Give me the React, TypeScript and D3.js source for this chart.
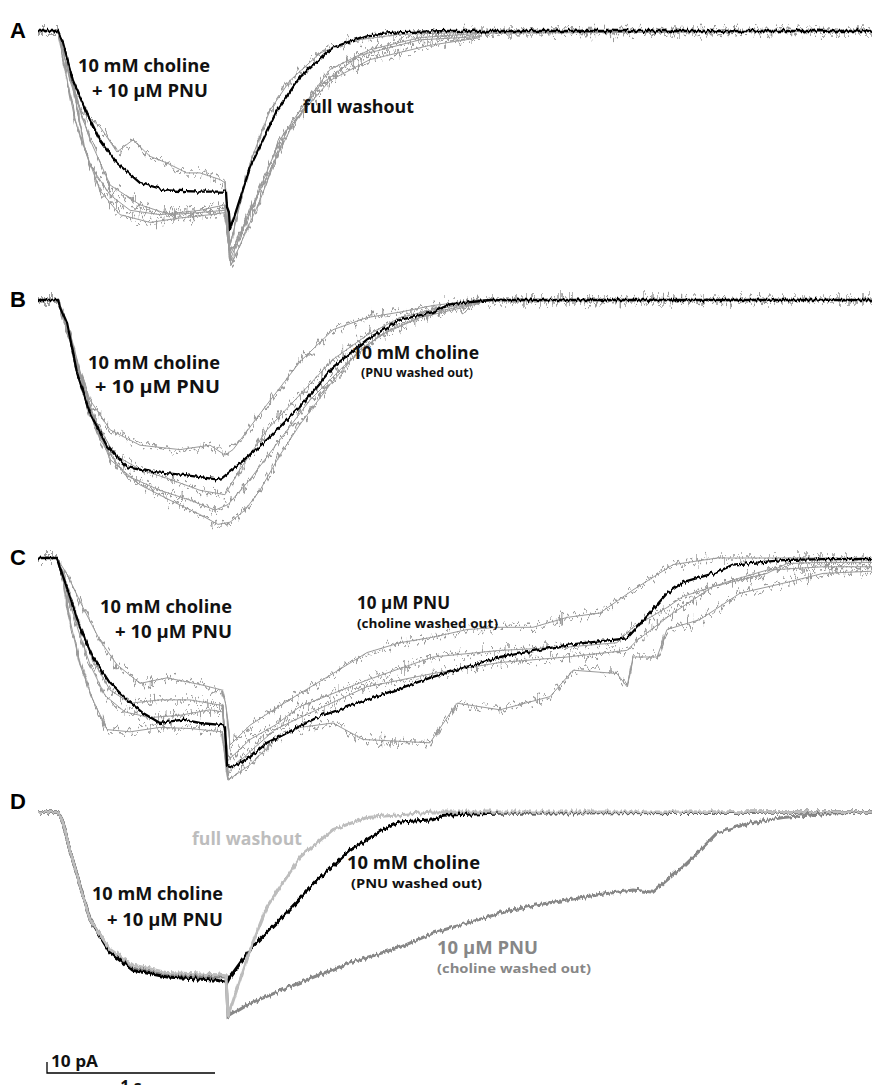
import React from "react";
import * as d3 from "d3";

// Each point is [time (s), current (pA)]; inward current is negative.
type Pt = [number, number];

const TICKS_SCALE = { pA: 10, s: 1 };

// ---------- Panel A: 10 mM choline + 10 µM PNU, then full washout ----------
const aMean: Pt[] = [
  [0, 0], [0.119, 0], [0.149, -11], [0.208, -45], [0.292, -75], [0.369, -99], [0.47, -120],
  [0.607, -138], [0.768, -145], [0.964, -146], [1.119, -146], [1.125, -160], [1.137, -165],
  [1.143, -181], [1.262, -124], [1.423, -72], [1.56, -42], [1.756, -15], [1.958, -4],
  [2.155, -1], [2.452, 0], [4.964, 0],
];
const aSweep1: Pt[] = [
  [0, 0], [0.119, 0], [0.161, -26], [0.25, -72], [0.369, -87], [0.47, -110], [0.565, -99],
  [0.667, -114], [0.768, -120], [0.885, -129], [0.964, -129], [1.083, -135], [1.113, -138],
  [1.143, -195], [1.262, -120], [1.381, -72], [1.5, -45], [1.679, -20], [1.857, -9],
  [2.155, -3], [2.631, -1], [4.964, 0],
];
const aSweep2: Pt[] = [
  [0, 0], [0.119, 0], [0.161, -35], [0.22, -81], [0.31, -122], [0.429, -149], [0.548, -163],
  [0.726, -167], [0.964, -163], [1.113, -158], [1.143, -208], [1.292, -154], [1.44, -99],
  [1.56, -72], [1.738, -35], [1.976, -17], [2.274, -6], [2.631, -2], [4.964, 0],
];
const aSweep3: Pt[] = [
  [0, 0], [0.119, 0], [0.19, -45], [0.31, -99], [0.429, -140], [0.607, -158], [0.786, -167],
  [0.964, -165], [1.113, -163], [1.143, -204], [1.321, -145], [1.5, -90], [1.679, -49],
  [1.917, -22], [2.274, -8], [2.631, -5],
];
const aSweep4: Pt[] = [
  [0, 0], [0.119, 0], [0.19, -35], [0.28, -108], [0.369, -145], [0.488, -167], [0.667, -174],
  [0.845, -170], [1.024, -167], [1.113, -165], [1.149, -213], [1.321, -154], [1.482, -90],
  [1.738, -45], [1.976, -26], [2.333, -13], [2.631, -6],
];

// ---------- Panel B: choline + PNU, then 10 mM choline alone ----------
const bMean: Pt[] = [
  [0, 0], [0.119, 0], [0.131, -6], [0.173, -21], [0.232, -66], [0.31, -103], [0.411, -133],
  [0.53, -152], [0.667, -156], [0.863, -159], [1.065, -163], [1.095, -162], [1.161, -154],
  [1.363, -127], [1.56, -97], [1.756, -61], [1.958, -36], [2.155, -18], [2.351, -11],
  [2.452, -4], [2.69, 0], [4.964, 0],
];
const bSweep1: Pt[] = [
  [0, 0], [0.119, 0], [0.161, -18], [0.22, -54], [0.31, -91], [0.429, -118], [0.607, -132],
  [0.845, -136], [1.024, -132], [1.113, -141], [1.161, -136], [1.363, -95], [1.56, -56],
  [1.756, -27], [1.958, -16], [2.155, -11], [2.351, -5], [2.631, 0], [4.964, 0],
];
const bSweep2: Pt[] = [
  [0, 0], [0.119, 0], [0.179, -27], [0.25, -68], [0.339, -109], [0.458, -141], [0.607, -154],
  [0.786, -163], [0.964, -173], [1.113, -177], [1.202, -154], [1.363, -118], [1.56, -86],
  [1.756, -54], [1.958, -32], [2.155, -16], [2.351, -9], [2.631, -1], [4.964, 0],
];
const bSweep3: Pt[] = [
  [0, 0], [0.119, 0], [0.19, -36], [0.28, -91], [0.369, -127], [0.518, -159], [0.726, -173],
  [0.905, -182], [1.054, -191], [1.131, -186], [1.262, -163], [1.44, -127], [1.619, -91],
  [1.827, -59], [2.036, -32], [2.274, -16], [2.631, -3],
];
const bSweep4: Pt[] = [
  [0, 0], [0.119, 0], [0.202, -36], [0.31, -100], [0.429, -145], [0.607, -168], [0.786, -182],
  [0.964, -195], [1.071, -204], [1.143, -202], [1.232, -191], [1.321, -173], [1.44, -141],
  [1.56, -113], [1.738, -77], [1.917, -45], [2.095, -27], [2.333, -12], [2.631, -2],
];

// ---------- Panel C: choline + PNU, then 10 µM PNU alone ----------
const cMean: Pt[] = [
  [0, 0], [0.113, 0], [0.143, -14], [0.19, -35], [0.25, -63], [0.327, -90], [0.429, -114],
  [0.53, -129], [0.625, -141], [0.726, -150], [0.768, -149], [0.863, -147], [0.964, -150],
  [1.101, -152], [1.113, -154], [1.125, -188], [1.161, -190], [1.262, -181], [1.363, -168],
  [1.482, -159], [1.661, -145], [1.958, -129], [2.351, -108], [2.75, -90], [3.149, -79],
  [3.506, -73], [3.643, -50], [3.744, -32], [3.839, -22], [4.042, -13], [4.137, -6],
  [4.435, -2], [4.673, -1], [4.964, -1],
];
const cSweep1: Pt[] = [
  [0, 0], [0.113, 0], [0.173, -15], [0.268, -45], [0.369, -75], [0.47, -97], [0.607, -114],
  [0.768, -109], [0.964, -115], [1.095, -120], [1.119, -134], [1.143, -170], [1.262, -152],
  [1.381, -140], [1.56, -123], [1.756, -105], [1.958, -86], [2.155, -77], [2.351, -72],
  [2.554, -65], [2.75, -63], [2.946, -63], [3.149, -54], [3.345, -50], [3.542, -29],
  [3.78, -6], [4.042, 0], [4.964, 0],
];
const cSweep2: Pt[] = [
  [0, 0], [0.113, 0], [0.161, -20], [0.232, -56], [0.327, -93], [0.429, -120], [0.548, -132],
  [0.726, -129], [0.905, -129], [1.095, -134], [1.131, -184], [1.262, -165], [1.411, -152],
  [1.56, -135], [1.958, -111], [2.351, -90], [2.75, -84], [3.149, -81], [3.446, -77],
  [3.542, -63], [3.744, -45], [3.839, -35], [4.137, -20], [4.339, -11], [4.673, -8],
  [4.964, -8],
];
const cSweep3: Pt[] = [
  [0, 0], [0.113, 0], [0.149, -20], [0.19, -56], [0.25, -97], [0.327, -129], [0.411, -156],
  [0.548, -158], [0.726, -154], [0.905, -155], [1.095, -158], [1.131, -202], [1.262, -188],
  [1.411, -165], [1.56, -154], [1.756, -150], [1.935, -165], [2.333, -168], [2.494, -132],
  [2.75, -138], [3.048, -126], [3.185, -102], [3.446, -105], [3.506, -117], [3.542, -90],
  [3.685, -90], [3.744, -65], [3.94, -56], [4.179, -32], [4.435, -23], [4.673, -14],
  [4.964, -12],
];
const cSweep4: Pt[] = [
  [0, 0], [0.113, 0], [0.167, -29], [0.238, -65], [0.31, -97], [0.399, -125], [0.518, -140],
  [0.667, -145], [0.845, -143], [1.024, -138], [1.101, -140], [1.131, -195], [1.262, -176],
  [1.411, -156], [1.56, -145], [1.958, -117], [2.351, -105], [2.75, -95], [3.149, -90],
  [3.506, -84], [3.565, -75], [3.78, -50], [4.018, -26], [4.339, -14], [4.458, -5],
  [4.673, -4], [4.964, -4],
];

// ---------- Panel D: averaged responses of the three protocols ----------
const dFullWashout: Pt[] = [
  [0, 0], [0.119, 0], [0.143, -7], [0.19, -35], [0.31, -98], [0.429, -125], [0.565, -139],
  [0.768, -146], [1.065, -148], [1.119, -149], [1.131, -186], [1.262, -125], [1.363, -86],
  [1.56, -41], [1.756, -16], [1.958, -5], [2.351, 0], [4.964, 0],
];
const dCholineOnly: Pt[] = [
  [0, 0], [0.119, 0], [0.143, -7], [0.19, -35], [0.31, -98], [0.429, -128], [0.565, -144],
  [0.768, -150], [1.065, -153], [1.125, -155], [1.143, -150], [1.262, -125], [1.458, -95],
  [1.661, -62], [1.857, -35], [2.054, -16], [2.155, -9], [2.351, -7], [2.411, -3],
  [2.75, -1], [4.964, 0],
];
const dPnuOnly: Pt[] = [
  [0, 0], [0.119, 0], [0.143, -7], [0.19, -35], [0.31, -97], [0.429, -126], [0.565, -142],
  [0.768, -148], [1.065, -150], [1.119, -150], [1.131, -186], [1.262, -174], [1.56, -155],
  [1.857, -137], [2.155, -123], [2.351, -110], [2.554, -101], [2.75, -92], [2.946, -85],
  [3.149, -80], [3.345, -75], [3.542, -71], [3.661, -73], [3.744, -62], [3.839, -50],
  [3.94, -35], [4.042, -19], [4.238, -10], [4.435, -5], [4.732, -1], [4.964, 0],
];

const SWEEP_END = 4.964;

// ---------- layout ----------
const W = 872;
const H = 1085;
const X0 = 38;
const PX_PER_S = 168;
const PX_PER_PA = 1.1;

const FONT = "'Open Sans', 'Noto Sans', sans-serif";
const GRAY = "#9a9a9a";

const x = d3.scaleLinear().domain([0, SWEEP_END]).range([X0, X0 + PX_PER_S * SWEEP_END]);
const yFor = (base: number) =>
  d3.scaleLinear().domain([0, -10]).range([base, base + 10 * PX_PER_PA]);

const pathFor = (base: number) => {
  const y = yFor(base);
  return d3
    .line<Pt>()
    .x((d) => x(d[0]))
    .y((d) => y(d[1]));
};

type LabelProps = {
  x: number;
  y: number;
  text: string;
  size?: number;
  fill?: string;
  len?: number;
  anchor?: "start" | "middle" | "end";
};

function Label({ x: lx, y: ly, text, size = 17, fill = "#111", len, anchor = "start" }: LabelProps) {
  return (
    <text
      x={lx}
      y={ly}
      fontFamily={FONT}
      fontWeight={700}
      fontSize={size}
      fill={fill}
      textAnchor={anchor}
      textLength={len}
      lengthAdjust={len ? "spacingAndGlyphs" : undefined}
    >
      {text}
    </text>
  );
}

function PanelLetter({ letter, y }: { letter: string; y: number }) {
  return (
    <text
      x={10}
      y={y}
      fontFamily="'Liberation Sans', Arial, sans-serif"
      fontWeight={700}
      fontSize={22}
      fill="#000"
    >
      {letter}
    </text>
  );
}

// Jagged recording noise is a rendering texture, not data.
function Jitter({ id, seed, scale, freq }: { id: string; seed: number; scale: number; freq: string }) {
  return (
    <filter
      id={id}
      filterUnits="userSpaceOnUse"
      x={0}
      y={0}
      width={W}
      height={H}
      colorInterpolationFilters="sRGB"
    >
      <feTurbulence type="fractalNoise" baseFrequency={freq} numOctaves={2} seed={seed} result="n" />
      <feColorMatrix
        in="n"
        type="matrix"
        values="0 0 0 0 0.5  0 1 0 0 0  0 0 0 0 0  0 0 0 0 1"
        result="m"
      />
      <feDisplacementMap in="SourceGraphic" in2="m" scale={scale} xChannelSelector="R" yChannelSelector="G" />
    </filter>
  );
}

type Panel = {
  letter: string;
  base: number;
  mean: Pt[];
  sweeps: Pt[][];
};

const panels: Panel[] = [
  { letter: "A", base: 31, mean: aMean, sweeps: [aSweep1, aSweep2, aSweep3, aSweep4] },
  { letter: "B", base: 300, mean: bMean, sweeps: [bSweep1, bSweep2, bSweep3, bSweep4] },
  { letter: "C", base: 558, mean: cMean, sweeps: [cSweep1, cSweep2, cSweep3, cSweep4] },
];

const D_BASE = 812;

export default function App() {
  const dLine = pathFor(D_BASE);
  const barY = 1073;
  const barX = 47;
  return (
    <svg
      width={W}
      height={H}
      viewBox={`0 0 ${W} ${H}`}
      style={{ position: "absolute", left: 0, top: 0, display: "block", background: "#fff" }}
    >
      <defs>
        <Jitter id="jA" seed={3} scale={24} freq="0.3 0.05" />
        <Jitter id="jB" seed={11} scale={24} freq="0.34 0.06" />
        <Jitter id="jMean" seed={5} scale={6} freq="0.4 0.05" />
        <Jitter id="jD" seed={7} scale={7} freq="0.4 0.05" />
      </defs>
      <rect x={0} y={0} width={W} height={H} fill="#fff" />

      {panels.map((p) => {
        const line = pathFor(p.base);
        return (
          <g key={p.letter}>
            {p.sweeps.map((s, i) => {
              const d = line(s) ?? "";
              return (
                <g key={i}>
                  {/* steady core of the sweep */}
                  <path d={d} fill="none" stroke={GRAY} strokeWidth={1} strokeLinejoin="round" />
                  {/* jagged recording noise around it */}
                  <path
                    d={d}
                    fill="none"
                    stroke={GRAY}
                    strokeWidth={1.5}
                    strokeLinejoin="round"
                    filter={`url(#${i % 2 ? "jB" : "jA"})`}
                  />
                </g>
              );
            })}
            <path
              d={line(p.mean) ?? ""}
              fill="none"
              stroke="#000"
              strokeWidth={2.3}
              strokeLinejoin="round"
              filter="url(#jMean)"
            />
            <PanelLetter letter={p.letter} y={p.base + 7} />
          </g>
        );
      })}

      {/* Panel D: the three averaged responses */}
      <g>
        <path d={dLine(dPnuOnly) ?? ""} fill="none" stroke="#878787" strokeWidth={3} filter="url(#jD)" />
        <path d={dLine(dCholineOnly) ?? ""} fill="none" stroke="#000" strokeWidth={3} filter="url(#jD)" />
        <path d={dLine(dFullWashout) ?? ""} fill="none" stroke="#bdbdbd" strokeWidth={3} filter="url(#jD)" />
        <PanelLetter letter="D" y={D_BASE - 3} />
      </g>

      {/* Panel A labels */}
      <Label x={78} y={72} text="10 mM choline" len={132} />
      <Label x={92} y={97} text="+ 10 µM PNU" len={116} />
      <Label x={303} y={113} text="full washout" len={111} />

      {/* Panel B labels */}
      <Label x={88} y={369} text="10 mM choline" len={132} />
      <Label x={95} y={393} text="+ 10 µM PNU" len={125} />
      <Label x={352} y={359} text="10 mM choline" len={127} />
      <Label x={361} y={377} text="(PNU washed out)" size={12.5} len={112} />

      {/* Panel C labels */}
      <Label x={100} y={613} text="10 mM choline" len={132} />
      <Label x={115} y={638} text="+ 10 µM PNU" len={117} />
      <Label x={357} y={609} text="10 µM PNU" len={93} />
      <Label x={357} y={628} text="(choline washed out)" size={12.5} len={141} />

      {/* Panel D labels */}
      <Label x={192} y={845} text="full washout" fill="#bdbdbd" len={110} />
      <Label x={347} y={869} text="10 mM choline" len={133} />
      <Label x={351} y={888} text="(PNU washed out)" size={12.5} len={131} />
      <Label x={92} y={900} text="10 mM choline" len={131} />
      <Label x={107} y={926} text="+ 10 µM PNU" len={116} />
      <Label x={437} y={954} text="10 µM PNU" fill="#878787" len={101} />
      <Label x={437} y={973} text="(choline washed out)" size={12.5} fill="#878787" len={154} />

      {/* Scale bars: 10 pA vertical, 1 s horizontal */}
      <path
        d={`M${barX},${barY - TICKS_SCALE.pA * PX_PER_PA}V${barY}H${barX + TICKS_SCALE.s * PX_PER_S}`}
        fill="none"
        stroke="#000"
        strokeWidth={1.3}
      />
      <Label x={51} y={1067} text="10 pA" size={16} len={47} />
      <Label x={barX + (TICKS_SCALE.s * PX_PER_S) / 2} y={1092} text="1 s" size={16} anchor="middle" />
    </svg>
  );
}
